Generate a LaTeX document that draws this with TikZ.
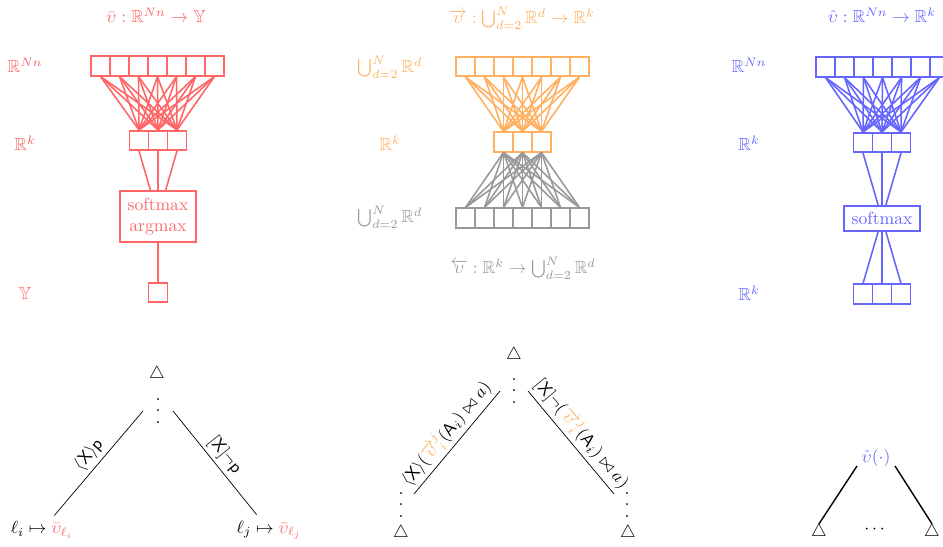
\documentclass[tikz,border=0pt]{standalone}
\usepackage{amsmath,amssymb}
\usetikzlibrary{positioning}

\definecolor{netred}{RGB}{255,102,102}
\definecolor{netorange}{RGB}{255,176,96}
\definecolor{netblue}{RGB}{102,102,255}
\definecolor{netgray}{RGB}{153,153,153}

\newcommand{\tallvdots}{\vbox{\baselineskip6.3pt\lineskiplimit0pt\hbox{.}\hbox{.}\hbox{.}}}

\begin{document}
\begin{tikzpicture}[
    x=0.02cm, y=-0.02cm,
    unit/.style={rectangle, draw, line width=0.9pt, minimum width=0.38cm, minimum height=0.39cm, inner sep=0pt},
    funbox/.style={rectangle, draw, line width=0.9pt, align=center, inner sep=2pt, minimum width=1.52cm},
    wire/.style={line width=0.9pt},
    dotsnode/.style={inner sep=0pt},
    tri/.style={inner sep=0pt},
    elabel/.style={sloped, above, inner sep=2pt}
]
\useasboundingbox (0,0) rectangle (943,547);
\clip (0,0) rectangle (943,547);

% Red network
\node[netred] (rtitle) at (156,15) {$\bar{\upsilon}:\mathbb{R}^{Nn}\to\mathbb{Y}$};
\node[netred] (rlabin) at (25,65) {$\mathbb{R}^{Nn}$};
\node[netred] (rlabhid) at (25,143) {$\mathbb{R}^k$};
\node[netred] (rlabout) at (25,293) {$\mathbb{Y}$};
\foreach \i in {1,...,7}
  \node[unit, netred] (rin\i) at ({81.5+19*\i},66) {};
\foreach \j in {1,2,3}
  \node[unit, netred] (rhid\j) at ({120+19*\j},140.5) {};
\node[funbox, netred, minimum height=1.02cm] (rsoft) at (158,216.5) {softmax\\argmax};
\node[unit, netred] (rout) at (158,292.5) {};
\foreach \i in {1,...,7}
  \foreach \j in {1,2,3}
    \draw[wire, netred] (rin\i.south) -- (rhid\j.north);
\foreach \j in {1,2,3}
  \draw[wire, netred] (rhid\j.south) -- (rsoft);
\draw[wire, netred] (rsoft) -- (rout);

% Orange encoder and gray decoder
\node[netorange] (otitle) at (522,18) {$\overrightarrow{\upsilon}:\bigcup_{d=2}^{N}\mathbb{R}^d\to\mathbb{R}^k$};
\node[netorange] (olabin) at (390,67) {$\bigcup_{d=2}^{N}\mathbb{R}^d$};
\node[netorange] (olabhid) at (390,143) {$\mathbb{R}^k$};
\node[netgray] (glabout) at (390,217) {$\bigcup_{d=2}^{N}\mathbb{R}^d$};
\node[netgray] (gtitle) at (523,268) {$\overleftarrow{\upsilon}:\mathbb{R}^k\to\bigcup_{d=2}^{N}\mathbb{R}^d$};
\foreach \i in {1,...,7}
  \node[unit, netorange] (oin\i) at ({446.5+19*\i},66.5) {};
\foreach \j in {1,2,3}
  \node[unit, netorange] (ohid\j) at ({484.5+19*\j},142) {};
\foreach \i in {1,...,7}
  \node[unit, netgray] (gout\i) at ({446.5+19*\i},218) {};
\foreach \i in {1,...,7}
  \foreach \j in {1,2,3} {
    \draw[wire, netorange] (oin\i.south) -- (ohid\j.north);
    \draw[wire, netgray] (ohid\j.south) -- (gout\i.north);
  }

% Blue network
\node[netblue] (btitle) at (882,15) {$\hat{\upsilon}:\mathbb{R}^{Nn}\to\mathbb{R}^k$};
\node[netblue] (blabin) at (749,65) {$\mathbb{R}^{Nn}$};
\node[netblue] (blabhid) at (749,143) {$\mathbb{R}^k$};
\node[netblue] (blabout) at (749,293) {$\mathbb{R}^k$};
\foreach \i in {1,...,7}
  \node[unit, netblue] (bin\i) at ({806.5+19*\i},67) {};
\foreach \j in {1,2,3}
  \node[unit, netblue] (bhid\j) at ({844+19*\j},142.5) {};
\node[funbox, netblue, minimum height=0.5cm] (bsoft) at (882,218.5) {softmax};
\foreach \j in {1,2,3}
  \node[unit, netblue] (bout\j) at ({844+19*\j},294) {};
\foreach \i in {1,...,7}
  \foreach \j in {1,2,3}
    \draw[wire, netblue] (bin\i.south) -- (bhid\j.north);
\foreach \j in {1,2,3} {
  \draw[wire, netblue] (bhid\j.south) -- (bsoft);
  \draw[wire, netblue] (bsoft) -- (bout\j.north);
}

% Left tree
\node[tri] (ltop) at (157,374) {$\triangle$};
\node[dotsnode] (ldots) at (158,411) {\tallvdots};
\node (lleafi) at (42,530) {$\ell_i\mapsto\textcolor{netred}{\bar{\upsilon}_{\ell_i}}$};
\node (lleafj) at (269,530) {$\ell_j\mapsto\textcolor{netred}{\bar{\upsilon}_{\ell_j}}$};
\draw (lleafi) -- node[elabel] {$\langle\mathsf{X}\rangle\mathsf{p}$} ([xshift=-0.3cm]ldots.center);
\draw ([xshift=0.3cm]ldots.center) -- node[elabel] {$[\mathsf{X}]\neg\mathsf{p}$} (lleafj);

% Middle tree
\node[tri] (mtop) at (514,355) {$\triangle$};
\node[dotsnode] (mdots) at (514,391) {\tallvdots};
\node[dotsnode] (mlvd) at (401,505) {\tallvdots};
\node[tri] (mlleaf) at (401,533) {$\triangle$};
\node[dotsnode] (mrvd) at (627,505) {\tallvdots};
\node[tri] (mrleaf) at (628,533) {$\triangle$};
\draw ([xshift=0.26cm,yshift=0.22cm]mlvd.center) -- node[elabel] {$\langle\mathsf{X}\rangle(\textcolor{netorange}{\overrightarrow{\upsilon}^{j}_{i}}(\mathsf{A}_i)\bowtie a)$} ([xshift=-0.28cm]mdots.center);
\draw ([xshift=0.28cm]mdots.center) -- node[elabel] {$[\mathsf{X}]\neg(\textcolor{netorange}{\overrightarrow{\upsilon}^{j}_{i}}(\mathsf{A}_i)\bowtie a)$} ([xshift=-0.26cm,yshift=0.22cm]mrvd.center);

% Right tree
\node[netblue] (bhat) at (876,458) {$\hat{\upsilon}(\cdot)$};
\node[tri] (bleft) at (819,532) {$\triangle$};
\node (bmid) at (876,530) {$\cdots$};
\node[tri] (bright) at (932,532) {$\triangle$};
\draw[thick] ([xshift=-0.38cm,yshift=-0.16cm]bhat.center) -- (bleft.north);
\draw[thick] ([xshift=0.38cm,yshift=-0.16cm]bhat.center) -- (bright.north);

\end{tikzpicture}
\end{document}
